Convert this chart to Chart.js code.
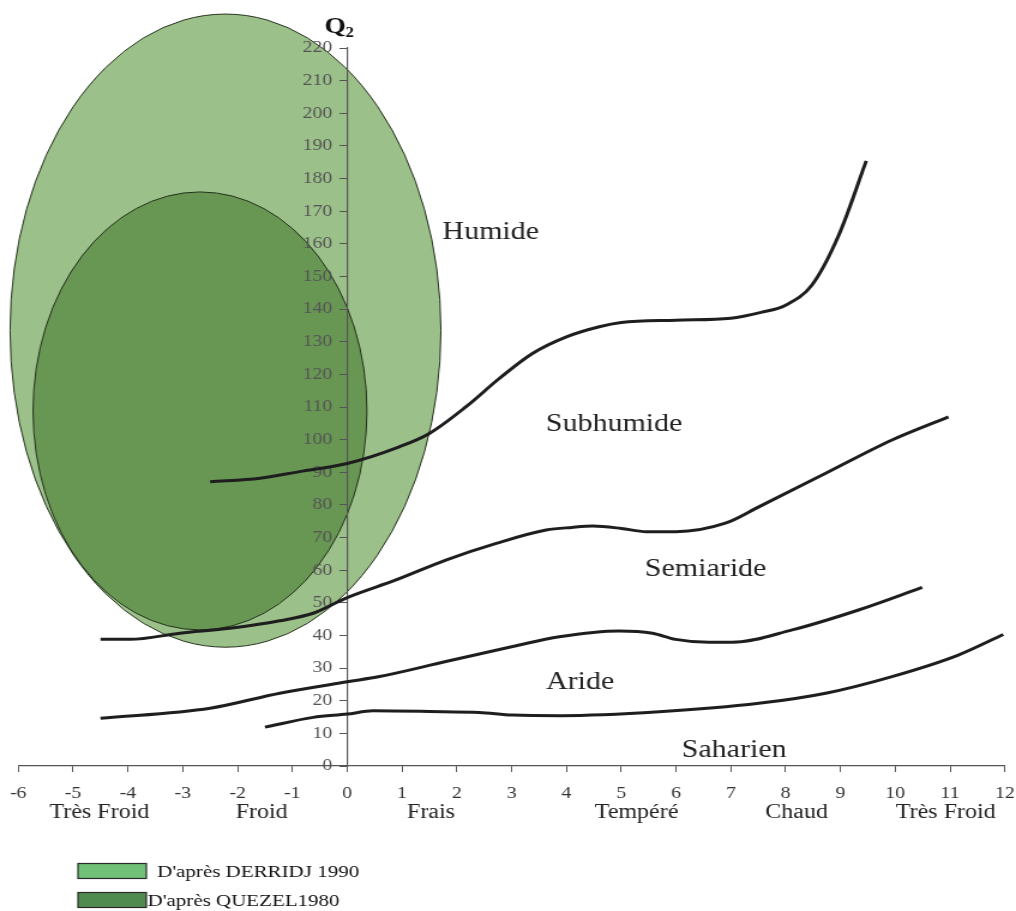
<!DOCTYPE html>
<html lang="fr">
<head>
<meta charset="utf-8">
<title>Climagramme d'Emberger – Q2</title>
<script src="https://cdn.jsdelivr.net/npm/chart.js@4.4.1/dist/chart.umd.min.js"></script>
<style>
  html, body { margin: 0; padding: 0; background: #fff; overflow: hidden; }
  #frame { width: 847px; height: 911px; transform: scaleX(1.19953); transform-origin: 0 0; }
</style>
</head>
<body>
<div id="frame"><canvas id="chart"></canvas></div>
<script>
// Axis ranges: m (°C) horizontally, Q2 vertically
const xMin = -6, xMax = 12, xStep = 1;
const yMin = 0, yMax = 220, yStep = 10;

// Thermal variants written under the m axis
const thermalNames = ['Très Froid', 'Froid', 'Frais', 'Tempéré', 'Chaud', 'Très Froid'];
const thermalPos   = [-4.52, -1.56, 1.53, 5.28, 8.2, 10.92];

// Boundary Humide / Subhumide
const humideX = [-2.5, -1.59, -0.87, 0, 0.95, 1.5, 2.17, 2.78, 3.38, 4.0, 4.6, 5.0, 6.0, 7.0, 7.55, 8.0, 8.48, 8.97, 9.47];
const humideY = [87.1, 88.2, 90.2, 92.7, 97.8, 101.9, 110.1, 118.8, 126.4, 131.5, 134.6, 135.9, 136.6, 137.2, 139.0, 141.2, 147.4, 162.7, 185.4];

// Boundary Subhumide / Semiaride
const subhumideX = [-4.5, -3.96, -3.05, -2.14, -1.23, -0.62, 0, 0.89, 1.8, 2.72, 3.63, 4.1, 4.48, 5.0, 5.45, 6.0, 6.9, 7.51, 8.73, 9.94, 10.97];
const subhumideY = [38.8, 38.8, 40.7, 42.2, 44.5, 46.8, 51.6, 57.0, 63.1, 68.2, 72.3, 73.1, 73.5, 72.8, 71.8, 71.8, 74.4, 79.4, 89.7, 99.9, 107.0];

// Boundary Semiaride / Aride
const semiarideX = [-4.5, -2.5, -1.23, 0, 0.59, 1.8, 3.02, 3.87, 4.96, 5.57, 5.99, 6.6, 7.03, 8.12, 9.33, 10.49];
const semiarideY = [14.6, 17.7, 22.3, 25.8, 27.4, 32.0, 36.6, 39.6, 41.4, 40.7, 38.8, 37.9, 37.9, 41.7, 47.8, 54.7];

// Boundary Aride / Saharien
const arideX = [-1.5, -0.62, 0, 0.47, 1.5, 2.41, 3.02, 3.9, 5.69, 7.51, 8.73, 9.94, 11.15, 11.97];
const arideY = [11.9, 14.9, 15.9, 16.9, 16.7, 16.4, 15.6, 15.4, 16.6, 19.2, 22.3, 27.4, 34.0, 40.3];

// Bioclimatic stage names and where they sit
const zoneNames = ['Humide', 'Subhumide', 'Semiaride', 'Aride', 'Saharien'];
const zoneX = [2.62, 4.87, 6.54, 4.25, 7.06];
const zoneY = [163.6, 104.8, 60.1, 25.7, 4.9];

// Ranges of the species after each author (ellipse centre and half-axes, in axis units)
const rangeNames  = ["D'après DERRIDJ 1990", "D'après QUEZEL1980"];
const rangeCX = [-2.22, -2.685];
const rangeCY = [133.4, 108.8];
const rangeRX = [3.93, 3.046];
const rangeRY = [97.0, 67.1];
const rangeFill   = ['#9cc08a', '#689653'];
const rangeSwatch = ['#70c077', '#4f8b4f'];

const SERIF = '"Liberation Serif", "Times New Roman", serif';
const LINE = '#1e1e1e';

function toPoints(xs, ys) { return xs.map((v, i) => ({ x: v, y: ys[i] })); }

function boundary(label, xs, ys) {
  return {
    label,
    data: toPoints(xs, ys),
    showLine: true,
    borderColor: LINE,
    borderWidth: 3,
    pointRadius: 0,
    cubicInterpolationMode: 'monotone',
    fill: false
  };
}

// Filled ellipses, painted before the axes so the Q2 scale stays on top
const rangesPlugin = {
  id: 'ranges',
  beforeDraw(chart) {
    const { ctx, scales: { x, y } } = chart;
    ctx.save();
    for (let i = 0; i < rangeCX.length; i++) {
      const cx = x.getPixelForValue(rangeCX[i]);
      const cy = y.getPixelForValue(rangeCY[i]);
      const rx = Math.abs(x.getPixelForValue(rangeCX[i] + rangeRX[i]) - cx);
      const ry = Math.abs(y.getPixelForValue(rangeCY[i] + rangeRY[i]) - cy);
      ctx.beginPath();
      ctx.ellipse(cx, cy, rx, ry, 0, 0, Math.PI * 2);
      ctx.fillStyle = rangeFill[i];
      ctx.fill();
      ctx.lineWidth = 1;
      ctx.strokeStyle = '#25331e';
      ctx.stroke();
    }
    ctx.restore();
  }
};

const textPlugin = {
  id: 'texts',
  afterDraw(chart) {
    const { ctx, scales: { x, y } } = chart;
    ctx.save();
    // stage names
    ctx.fillStyle = '#222';
    ctx.font = '25px ' + SERIF;
    ctx.textAlign = 'center';
    ctx.textBaseline = 'middle';
    zoneNames.forEach((n, i) => {
      ctx.fillText(n, x.getPixelForValue(zoneX[i]), y.getPixelForValue(zoneY[i]));
    });
    // axis title Q2
    const ax = x.getPixelForValue(0);
    ctx.fillStyle = '#111';
    ctx.textAlign = 'left';
    ctx.textBaseline = 'alphabetic';
    ctx.font = 'bold 23px ' + SERIF;
    ctx.fillText('Q', ax - 19, 33);
    ctx.font = 'bold 14px ' + SERIF;
    ctx.fillText('2', ax - 1.5, 37);
    // legend
    const rows = [871, 900];
    const textX = [131, 123];
    ctx.font = '17.5px ' + SERIF;
    ctx.textBaseline = 'middle';
    rangeNames.forEach((n, i) => {
      ctx.fillStyle = rangeSwatch[i];
      ctx.fillRect(65, rows[i] - 7.5, 57, 15);
      ctx.lineWidth = 1.2;
      ctx.strokeStyle = '#2a2a2a';
      ctx.strokeRect(65, rows[i] - 7.5, 57, 15);
      ctx.fillStyle = '#111';
      ctx.fillText(n, textX[i], rows[i] + 1);
    });
    ctx.restore();
  }
};

new Chart(document.getElementById('chart'), {
  type: 'scatter',
  data: {
    datasets: [
      boundary('Humide / Subhumide', humideX, humideY),
      boundary('Subhumide / Semiaride', subhumideX, subhumideY),
      boundary('Semiaride / Aride', semiarideX, semiarideY),
      boundary('Aride / Saharien', arideX, arideY)
    ]
  },
  plugins: [rangesPlugin, textPlugin],
  options: {
    responsive: true,
    maintainAspectRatio: false,
    animation: false,
    events: [],
    layout: { padding: { top: 48, left: 15.25, right: 9.25, bottom: 72 } },
    plugins: { legend: { display: false }, tooltip: { enabled: false } },
    scales: {
      x: {
        type: 'linear',
        position: 'bottom',
        weight: 0,
        min: xMin, max: xMax,
        ticks: {
          stepSize: xStep, autoSkip: false, maxRotation: 0, padding: 12,
          color: '#333', font: { family: SERIF, size: 16.5 }
        },
        grid: { drawOnChartArea: false, tickLength: 6, color: '#555', lineWidth: 1 },
        border: { color: '#555', width: 1.2 },
        afterFit(scale) { scale.height = 33; scale.paddingLeft = 0; scale.paddingRight = 0; }
      },
      xNames: {
        type: 'linear',
        axis: 'x',
        position: 'bottom',
        weight: 1,
        min: xMin, max: xMax,
        afterBuildTicks(scale) { scale.ticks = thermalPos.map(v => ({ value: v })); },
        ticks: {
          autoSkip: false, maxRotation: 0, padding: -6,
          color: '#222', font: { family: SERIF, size: 20 },
          callback: (v) => thermalNames[thermalPos.indexOf(v)]
        },
        grid: { display: false },
        border: { display: false },
        afterFit(scale) { scale.height = 40; scale.paddingLeft = 0; scale.paddingRight = 0; }
      },
      y: {
        type: 'linear',
        position: { x: 0 },
        min: yMin, max: yMax,
        ticks: {
          stepSize: yStep,
          color: '#555', font: { family: SERIF, size: 16.5 },
          // keep the figures clear of the axis line and its tick marks
          callback: (v) => v + '   '
        },
        grid: { drawOnChartArea: false, tickLength: 6, color: '#555', lineWidth: 1 },
        border: { color: '#555', width: 1.2 },
        afterFit(scale) { scale.width = 0; }
      }
    }
  }
});
</script>
</body>
</html>
